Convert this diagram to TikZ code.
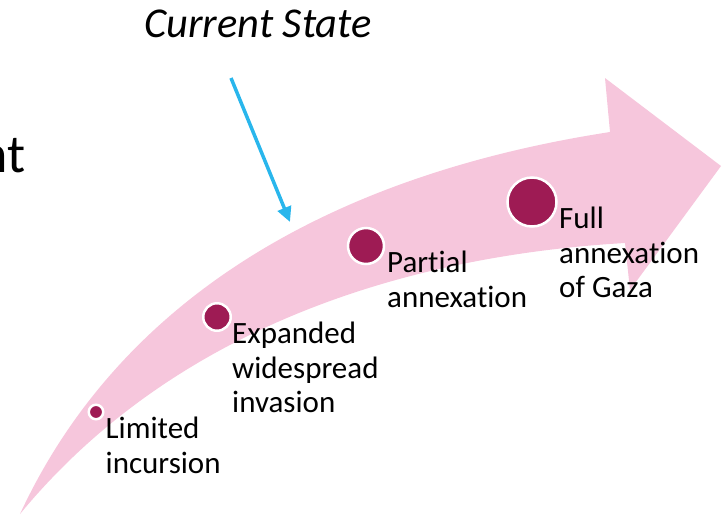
\documentclass[tikz,border=0pt]{standalone}
\usepackage{fontspec}
\setmainfont{Carlito}[Ligatures=NoCommon]
\usetikzlibrary{arrows.meta,positioning}
\definecolor{bandpink}{RGB}{246,198,220}
\definecolor{stageberry}{RGB}{158,27,84}
\definecolor{pointerblue}{RGB}{41,182,236}
\tikzset{%
  point/.style={circle, inner sep=0pt, draw=white, line width=2.5pt, fill=stageberry},
  stage label/.style={anchor=north west, inner sep=0pt, align=left, font=\fontsize{31}{34.5}\selectfont}
}
\begin{document}
\begin{tikzpicture}[x=1pt, y=-1pt]
          \useasboundingbox (0,0) rectangle (726,515);

          \fill[bandpink] (20,514) .. controls (110,320) and (300,180) .. (610,132)
            -- (605,78) -- (721,166) -- (630,290) -- (625,243)
            .. controls (420,255) and (180,320) .. cycle;

          \node[anchor=base west, inner sep=0pt, font=\fontsize{54}{60}\selectfont] (title end) at (-21,172) {nt};
          \node[anchor=base west, inner sep=0pt, font=\fontsize{42.5}{48}\selectfont\itshape] (current) at (144,37) {Current State};

          \coordinate (pointer start) at (231,78);
          \coordinate (pointer end) at (290,222);
          \draw[pointerblue, line width=3.5pt, -{Triangle[length=15pt,width=14pt]}] (pointer start) -- (pointer end);

          \node[point, minimum size=14.5pt] (limited) at (96,412) {};
          \node[point, minimum size=27.5pt] (expanded) at (217,317) {};
          \node[point, minimum size=36pt] (partial) at (366,246) {};
          \node[point, minimum size=49pt] (full) at (532,202) {};

          \node[stage label] (limited text) at (105.5,417) {Limited\\incursion};
          \node[stage label] (expanded text) at (232,322) {Expanded\\widespread\\invasion};
          \node[stage label] (partial text) at (387,251) {Partial\\annexation};
          \node[stage label] (full text) at (559,207) {Full\\annexation\\of Gaza};
        \end{tikzpicture}
\end{document}
